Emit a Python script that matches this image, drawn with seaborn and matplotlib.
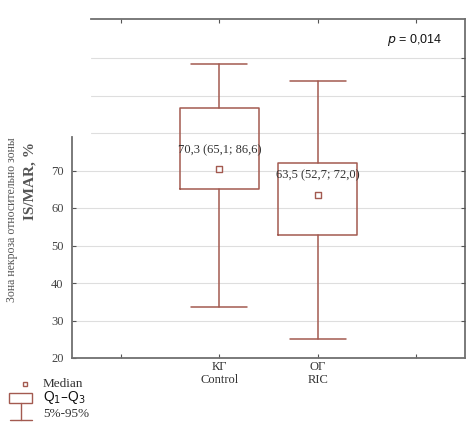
import matplotlib
matplotlib.use("Agg")
import matplotlib.pyplot as plt
import seaborn as sns
import pandas as pd
from matplotlib.patches import Rectangle
from matplotlib.lines import Line2D

groups = ["КГ\nControl", "ОГ\nRIC"]
positions = [1, 2]
medians = [70.3, 63.5]
q1 = [65.1, 52.7]
q3 = [86.6, 72.0]
p5 = [33.6, 25.1]
p95 = [98.4, 93.9]
labels = ["70,3 (65,1; 86,6)", "63,5 (52,7; 72,0)"]
yticks = [20, 30, 40, 50, 60, 70]
grid_vals = [30, 40, 50, 60, 70, 80, 90, 100]
xtick_pos = [0, 1, 2, 3]
xtick_labels = ["", groups[0], groups[1], ""]

sns.set_theme(style="white")
plt.rcParams["font.family"] = ["Liberation Serif", "DejaVu Serif"]

col = "#a35a50"
spine_col = "#707070"
fig = plt.figure(figsize=(4.74, 4.34), dpi=100)
ax = fig.add_axes([72 / 474, 1 - 358 / 434, 393 / 474, 339 / 434])

for g in grid_vals:
    xmin = 19 / 393 if g > 78 else 0
    ax.axhline(g, xmin=xmin, color="#dedede", lw=0.8, zorder=0)

stats = []
for i in range(2):
    stats.append(dict(med=medians[i], q1=q1[i], q3=q3[i], whislo=p5[i], whishi=p95[i], fliers=[]))
ax.bxp(stats, positions=positions, widths=0.8, showfliers=False,
       boxprops=dict(color=col, lw=1.1), whiskerprops=dict(color=col, lw=1.1),
       capprops=dict(color=col, lw=1.1), medianprops=dict(lw=0, color="none"),
       capwidths=0.57, manage_ticks=False)

df = pd.DataFrame({"x": positions, "med": medians})
sns.scatterplot(data=df, x="x", y="med", marker="s", s=14, facecolor="white",
                edgecolor=col, linewidth=1.0, ax=ax, zorder=5)
for i in range(2):
    ax.text(positions[i], medians[i] + 5.2, labels[i], ha="center", va="center",
            fontsize=9, color="#333333")

ax.text(2.99, 104.7, r"$p$ = 0,014", ha="center", va="center", fontsize=9,
        family=["Liberation Sans"], color="#111111")

ax.set_xlim(-0.5, 3.5)
ax.set_ylim(20, 110.4)
ax.set_xticks(xtick_pos)
ax.set_xticklabels(xtick_labels, fontsize=9, color="#333333", linespacing=1.1)
ax.set_yticks(yticks)
ax.set_yticklabels([str(v) for v in yticks], fontsize=9, color="#444444")
ax.set_xlabel("")
ax.set_ylabel("")
ax.tick_params(axis="both", length=3, width=0.8, color="#555555", direction="in")
ax.tick_params(axis="y", left=True, pad=6)
ax.tick_params(axis="x", bottom=True, top=True, pad=2)
for s in ["left", "bottom", "top", "right"]:
    ax.spines[s].set_visible(True)
    ax.spines[s].set_color(spine_col)
    ax.spines[s].set_linewidth(1.3)
ax.spines["left"].set_bounds(20, 78.9)
ax.spines["top"].set_bounds(-0.307, 3.5)

ax2 = ax.twinx()
ax2.set_ylim(20, 110.4)
ax2.set_yticks(grid_vals)
ax2.set_yticklabels([])
ax2.tick_params(axis="y", right=True, length=3, width=0.8, color="#555555", direction="in")
ax2.grid(False)
for s in ax2.spines.values():
    s.set_visible(False)

fig.text(12 / 474, 1 - 302 / 434, "Зона некроза относительно зоны", rotation=90,
         ha="center", va="bottom", fontsize=8.5, color="#555555")
fig.text(30 / 474, 1 - 220 / 434, "IS/MAR, %", rotation=90,
         ha="center", va="bottom", fontsize=11, fontweight="bold", color="#555555")

# legend
fig.add_artist(Rectangle((23 / 474, 1 - 386 / 434), 4 / 474, 4 / 434, transform=fig.transFigure,
                         facecolor="white", edgecolor=col, lw=1.0))
fig.text(43 / 474, 1 - 384 / 434, "Median", fontsize=9.5, va="center", color="#333333")
fig.add_artist(Rectangle((9 / 474, 1 - 403 / 434), 23 / 474, 10 / 434, transform=fig.transFigure,
                         facecolor="white", edgecolor=col, lw=1.0))
fig.add_artist(Line2D([20.5 / 474, 20.5 / 474], [1 - 403 / 434, 1 - 420 / 434], transform=fig.transFigure,
                      color=col, lw=1.0))
fig.add_artist(Line2D([10 / 474, 32 / 474], [1 - 420 / 434, 1 - 420 / 434], transform=fig.transFigure,
                      color=col, lw=1.0))
fig.text(43 / 474, 1 - 397 / 434, r"Q$_1$–Q$_3$", fontsize=10, va="center",
         family=["Liberation Sans"], color="#111111")
fig.text(43 / 474, 1 - 414 / 434, "5%-95%", fontsize=9.5, va="center", color="#333333")

fig.savefig("out.png", dpi=100)
